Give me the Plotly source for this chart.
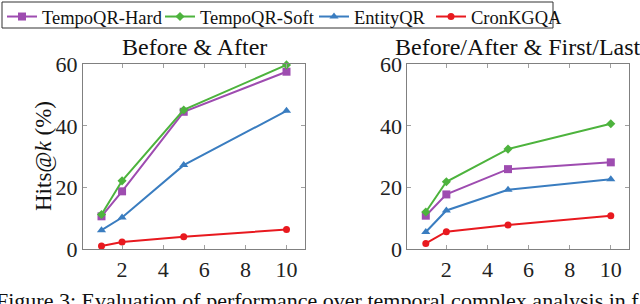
import plotly.graph_objects as go

k_values = [1, 2, 5, 10]
series_names = ["TempoQR-Hard", "TempoQR-Soft", "EntityQR", "CronKGQA"]
before_after = {
    "TempoQR-Hard": [10.7, 18.8, 44.6, 57.6],
    "TempoQR-Soft": [11.3, 22.2, 45.2, 59.8],
    "EntityQR": [6.2, 10.3, 27.3, 44.9],
    "CronKGQA": [1.1, 2.4, 4.1, 6.4],
}
before_after_first_last = {
    "TempoQR-Hard": [10.9, 17.8, 26.0, 28.2],
    "TempoQR-Soft": [12.1, 21.9, 32.5, 40.7],
    "EntityQR": [5.6, 12.6, 19.3, 22.7],
    "CronKGQA": [1.9, 5.7, 7.9, 10.9],
}
panel_titles = ["Before & After", "Before/After & First/Last"]
y_ticks = [0, 20, 40, 60]
x_ticks = [2, 4, 6, 8, 10]
y_title = "Hits@<i>k</i> (%)"
caption = "Figure 3: Evaluation of performance over temporal complex analysis in f"

colors = {"TempoQR-Hard": "#9E4CB0", "TempoQR-Soft": "#4DB33D",
          "EntityQR": "#3A7DC0", "CronKGQA": "#E8191F"}
symbols = {"TempoQR-Hard": "square", "TempoQR-Soft": "diamond",
           "EntityQR": "triangle-up", "CronKGQA": "circle"}
sizes = {"TempoQR-Hard": 8, "TempoQR-Soft": 7, "EntityQR": 8, "CronKGQA": 7}
legend_ids = {"TempoQR-Hard": "legend2", "TempoQR-Soft": "legend3",
              "EntityQR": "legend4", "CronKGQA": "legend5"}
legend_x_px = {"legend2": 2, "legend3": 160, "legend4": 314, "legend5": 431}

FONT = "Liberation Serif, Times New Roman, serif"
W, H = 640, 304
fig = go.Figure()
for i, data in enumerate([before_after, before_after_first_last]):
    xa = "x" if i == 0 else "x2"
    ya = "y" if i == 0 else "y2"
    for name in series_names:
        fig.add_trace(go.Scatter(
            x=k_values, y=data[name], mode="lines+markers", name=name,
            xaxis=xa, yaxis=ya, showlegend=(i == 0), cliponaxis=False,
            legend=legend_ids[name],
            line=dict(color=colors[name], width=2),
            marker=dict(symbol=symbols[name], size=sizes[name], color=colors[name]),
        ))

ax_common = dict(showgrid=False, zeroline=False, showline=True, linecolor="#808080",
                 linewidth=1, mirror="ticks", ticks="inside", ticklen=4,
                 tickcolor="#a0a0a0", tickfont=dict(family=FONT, size=22, color="#222"))
layout = dict(
    width=W, height=H, margin=dict(l=0, r=0, t=0, b=0, autoexpand=False),
    paper_bgcolor="white", plot_bgcolor="white",
    font=dict(family=FONT, size=20, color="#111"),
    xaxis=dict(domain=[83 / W, 305 / W], range=[0.1, 10.9], tickvals=x_ticks, anchor="y", **ax_common),
    yaxis=dict(domain=[(H - 249.3) / H, (H - 64.3) / H], range=[0, 60], tickvals=y_ticks, anchor="x", **ax_common),
    xaxis2=dict(domain=[407.3 / W, 629.3 / W], range=[0.1, 10.9], tickvals=x_ticks, anchor="y2", **ax_common),
    yaxis2=dict(domain=[(H - 249.3) / H, (H - 64.3) / H], range=[0, 60], tickvals=y_ticks, anchor="x2", **ax_common),
    showlegend=True,
)
for lid, px in legend_x_px.items():
    layout[lid] = dict(orientation="h", x=px / W, y=1 + 2 / H, xanchor="left", yanchor="top",
                       borderwidth=0, bgcolor="rgba(0,0,0,0)",
                       font=dict(family=FONT, size=18.5, color="#111"), itemwidth=30)
fig.update_layout(**layout)

fig.add_shape(type="rect", xref="paper", yref="paper", x0=2 / W, x1=553 / W,
              y0=1 - 28 / H, y1=1 - 2 / H, line=dict(color="#333", width=1))

annos = [
    dict(text=panel_titles[0], x=194 / W, y=1 - 47 / H, xanchor="center", yanchor="middle",
         showarrow=False, font=dict(family=FONT, size=24, color="#111")),
    dict(text=panel_titles[1], x=518 / W, y=1 - 47 / H, xanchor="center", yanchor="middle",
         showarrow=False, font=dict(family=FONT, size=24, color="#111")),
    dict(text=y_title, x=43 / W, y=1 - 156 / H, xanchor="center", yanchor="middle",
         showarrow=False, textangle=-90, font=dict(family=FONT, size=23, color="#111")),
    dict(text=caption, x=-6 / W, y=1 - 286 / H, xanchor="left", yanchor="top",
         showarrow=False, font=dict(family=FONT, size=22, color="#111")),
]
for a in annos:
    a.update(xref="paper", yref="paper")
fig.update_layout(annotations=annos)
fig.write_html("out.html", config={"displayModeBar": False},
               post_script="document.body.style.margin='0';document.body.style.overflow='hidden';")
